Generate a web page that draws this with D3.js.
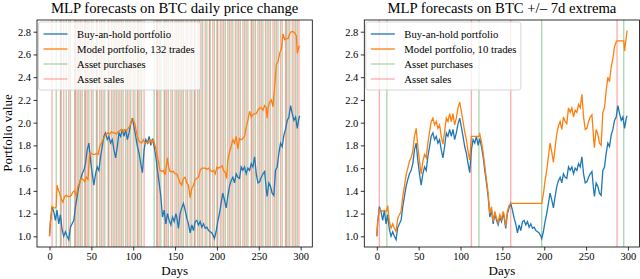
<!DOCTYPE html>
<html>
<head>
<meta charset="utf-8">
<script src="https://cdn.jsdelivr.net/npm/d3@7"></script>
<style>
  body { margin: 0; background: #fff; }
  svg text { font-family: "Liberation Serif", "DejaVu Serif", serif; fill: #000; }
</style>
</head>
<body>
<svg id="chart" width="640" height="279"></svg>
<script>
// Buy-and-hold portfolio (same in both panels): [day, value]
const buyHold = [[0,1.00],[1,1.12],[3,1.26],[5,1.22],[7,1.14],[9,1.23],[11,1.11],[13,1.19],[15,1.06],[17,1.00],[19,1.04],[21,1.00],[23,0.97],[25,1.08],[27,1.11],[29,1.14],[31,1.26],[33,1.35],[35,1.44],[37,1.50],[39,1.55],[41,1.58],[43,1.64],[45,1.76],[47,1.82],[49,1.67],[51,1.55],[53,1.45],[55,1.55],[57,1.61],[59,1.58],[61,1.70],[63,1.79],[65,1.88],[67,1.91],[69,1.85],[71,1.88],[73,1.82],[75,1.85],[77,1.76],[79,1.69],[81,1.79],[83,1.91],[85,1.88],[87,1.94],[89,1.88],[91,1.94],[93,1.85],[95,1.91],[97,1.99],[99,2.04],[101,1.96],[103,1.88],[105,1.79],[107,1.73],[109,1.64],[111,1.56],[113,1.76],[115,1.85],[117,1.82],[119,1.88],[121,1.80],[123,1.86],[125,1.79],[127,1.70],[129,1.58],[131,1.47],[133,1.35],[135,1.17],[137,1.23],[139,1.11],[141,1.20],[143,1.14],[145,1.10],[147,1.17],[149,1.13],[151,1.20],[152,1.17],[154,1.07],[156,1.20],[158,1.25],[160,1.29],[162,1.23],[164,1.16],[166,1.11],[168,1.03],[170,1.10],[172,1.05],[174,1.13],[176,1.14],[178,1.10],[180,1.13],[182,1.08],[184,1.11],[186,1.07],[188,1.08],[190,1.05],[192,1.04],[194,1.03],[196,1.00],[197,0.98],[199,1.04],[201,1.13],[203,1.20],[205,1.29],[207,1.38],[209,1.32],[211,1.25],[213,1.35],[215,1.44],[217,1.49],[219,1.52],[221,1.47],[223,1.55],[225,1.52],[227,1.51],[229,1.61],[231,1.58],[233,1.61],[235,1.55],[237,1.60],[239,1.58],[241,1.64],[243,1.61],[245,1.70],[247,1.55],[249,1.47],[251,1.48],[253,1.52],[255,1.55],[257,1.57],[259,1.41],[260,1.35],[262,1.47],[264,1.44],[266,1.38],[268,1.36],[270,1.58],[272,1.61],[274,1.73],[276,1.82],[278,1.79],[280,1.89],[282,1.94],[284,2.02],[286,2.05],[288,2.15],[290,2.08],[292,2.02],[294,2.05],[296,1.95],[298,2.04],[299,2.06]];

// Model portfolio, daily price change model (132 trades)
const dailyModel = [[0,1.00],[1,1.12],[3,1.26],[5,1.25],[7,1.25],[8,1.26],[9,1.45],[10,1.42],[12,1.38],[14,1.33],[16,1.30],[18,1.35],[20,1.36],[22,1.35],[24,1.35],[26,1.36],[28,1.39],[30,1.40],[32,1.35],[34,1.44],[36,1.47],[38,1.51],[40,1.50],[42,1.48],[44,1.52],[46,1.50],[48,1.73],[50,1.73],[52,1.72],[54,1.72],[56,1.73],[58,1.72],[60,1.79],[62,1.82],[64,1.85],[66,1.88],[68,1.90],[70,1.91],[72,1.90],[74,1.92],[76,1.91],[78,1.91],[80,1.90],[82,1.92],[84,1.93],[86,1.94],[88,1.92],[90,1.94],[92,1.93],[94,1.95],[96,1.97],[98,2.02],[100,2.03],[102,1.99],[104,1.91],[106,1.85],[108,1.83],[110,1.82],[112,1.85],[114,1.82],[116,1.83],[118,1.82],[120,1.85],[122,1.82],[124,1.85],[126,1.80],[128,1.74],[130,1.66],[132,1.58],[134,1.57],[136,1.58],[138,1.54],[140,1.64],[141,1.69],[142,1.62],[144,1.57],[146,1.57],[148,1.57],[150,1.55],[152,1.55],[154,1.51],[156,1.47],[158,1.45],[160,1.51],[162,1.52],[164,1.47],[166,1.45],[168,1.34],[170,1.42],[172,1.45],[174,1.50],[176,1.51],[178,1.52],[180,1.58],[182,1.60],[184,1.60],[186,1.60],[188,1.59],[190,1.60],[192,1.58],[194,1.57],[196,1.58],[198,1.55],[200,1.61],[202,1.60],[204,1.61],[206,1.62],[208,1.58],[210,1.56],[211.5,1.51],[213,1.67],[215,1.74],[217,1.79],[219,1.85],[221,1.82],[223,1.88],[225,1.77],[227,1.86],[229,1.85],[231,1.86],[233,1.88],[235,1.96],[237,2.02],[239,2.10],[241,2.05],[243,2.07],[245,2.08],[247,2.08],[249,2.11],[251,2.13],[253,2.13],[255,2.11],[257,2.15],[259,2.13],[260,2.04],[261,2.13],[263,2.18],[265,2.20],[267,2.14],[269,2.32],[271,2.51],[273,2.54],[275,2.61],[277,2.65],[279,2.78],[281,2.73],[283,2.74],[285,2.74],[287,2.78],[289,2.80],[291,2.80],[293,2.79],[295,2.76],[296,2.61],[298,2.67],[299,2.67]];

// Model portfolio, +/- 7d extrema model (10 trades)
const extremaModel = [[0,1.00],[1,1.12],[3,1.24],[5,1.23],[7,1.22],[9,1.23],[11,1.22],[12,1.23],[13,1.27],[15,1.13],[17,1.07],[19,1.11],[21,1.07],[23,1.04],[25,1.16],[27,1.19],[29,1.22],[31,1.35],[33,1.44],[35,1.54],[37,1.60],[39,1.66],[41,1.69],[43,1.75],[45,1.88],[47,1.95],[49,1.79],[51,1.66],[53,1.55],[55,1.66],[57,1.72],[59,1.69],[61,1.82],[63,1.92],[65,2.01],[67,2.04],[69,1.98],[71,2.01],[73,1.95],[75,1.98],[77,1.88],[79,1.81],[81,1.92],[83,2.04],[85,2.01],[87,2.08],[89,2.01],[91,2.08],[93,1.98],[95,2.04],[97,2.13],[99,2.18],[101,2.10],[103,2.01],[105,1.92],[107,1.85],[109,1.75],[111,1.67],[113,1.88],[122,1.88],[123,1.90],[125,1.83],[127,1.74],[129,1.62],[131,1.50],[133,1.38],[135,1.20],[137,1.26],[139,1.13],[141,1.22],[143,1.16],[145,1.12],[147,1.19],[149,1.15],[151,1.22],[152,1.19],[154,1.09],[156,1.22],[158,1.27],[160,1.29],[197,1.29],[199,1.37],[201,1.49],[203,1.58],[205,1.70],[207,1.82],[209,1.74],[211,1.65],[213,1.78],[215,1.90],[217,1.97],[219,2.01],[221,1.94],[223,2.05],[225,2.01],[227,1.99],[229,2.13],[231,2.09],[233,2.13],[235,2.05],[237,2.11],[239,2.09],[241,2.16],[243,2.13],[245,2.25],[247,2.05],[249,1.94],[251,1.95],[253,2.01],[255,2.05],[257,2.07],[259,1.86],[260,1.78],[262,1.94],[264,1.90],[266,1.82],[268,1.80],[270,2.09],[272,2.13],[274,2.28],[276,2.40],[278,2.36],[280,2.49],[282,2.56],[284,2.67],[286,2.71],[287,2.72],[295,2.72],[296,2.63],[298,2.75],[299,2.81]];

// trade days
const dailySales = [3,13,17,23,30,33,37,42,45,50,56,60,64,70,74,78,82,86,91,95,100,105,108,113,128,131,137,140,145,150,154,158,163,168,173,177,181,186,191,195,200,204,208,213,217,222,226,231,235,241,244,249,253,258,262,267,271,276,282,285,290,294,298];
const dailyBuys = [8,14,20,25,31,35,39,43,47,52,57,62,66,71,76,80,84,88,93,97,102,106,110,125,129,133,138,142,147,152,156,160,165,170,174,179,183,188,192,197,201,206,210,215,219,224,228,233,237,242,246,251,255,260,264,269,273,278,283,287,292,296];
const extremaSales = [3,113,160,287];
const extremaBuys = [12,122,197,295];

const xTicks = [0, 50, 100, 150, 200, 250, 300];
const yTicks = [1.0, 1.2, 1.4, 1.6, 1.8, 2.0, 2.2, 2.4, 2.6, 2.8];

const panels = [
  { left: 37, title: 'MLP forecasts on BTC daily price change', model: dailyModel,
    sales: dailySales, buys: dailyBuys, label: 'Model portfolio, 132 trades', ylabel: true, legendW: 162 },
  { left: 364.3, title: 'MLP forecasts on BTC +/\u2013 7d extrema', model: extremaModel,
    sales: extremaSales, buys: extremaBuys, label: 'Model portfolio, 10 trades', ylabel: false, legendW: 155 }
];

const plotTop = 20, plotBottom = 247, pw = 275.3;
const svg = d3.select('#chart');

panels.forEach((p, i) => {
  const x = d3.scaleLinear().domain([-14.95, 313.95]).range([p.left, p.left + pw]);
  const y = d3.scaleLinear().domain([0.906, 2.903]).range([plotBottom, plotTop]);

  svg.append('clipPath').attr('id', 'clip' + i)
    .append('rect').attr('x', p.left).attr('y', plotTop).attr('width', pw).attr('height', plotBottom - plotTop);
  const g = svg.append('g').attr('clip-path', 'url(#clip' + i + ')');

  // trade markers
  g.selectAll('.buy').data(p.buys).enter().append('line')
    .attr('x1', d => x(d)).attr('x2', d => x(d)).attr('y1', plotTop).attr('y2', plotBottom)
    .attr('stroke', 'green').attr('stroke-opacity', 0.33).attr('stroke-width', 1.3);
  g.selectAll('.sale').data(p.sales).enter().append('line')
    .attr('x1', d => x(d)).attr('x2', d => x(d)).attr('y1', plotTop).attr('y2', plotBottom)
    .attr('stroke', 'red').attr('stroke-opacity', 0.33).attr('stroke-width', 1.3);

  const line = d3.line().x(d => x(d[0])).y(d => y(d[1]));
  g.append('path').datum(buyHold).attr('d', line)
    .attr('fill', 'none').attr('stroke', '#1f77b4').attr('stroke-width', 1.3);
  g.append('path').datum(p.model).attr('d', line)
    .attr('fill', 'none').attr('stroke', '#ff7f0e').attr('stroke-width', 1.3);

  // axes
  const xAxis = svg.append('g').attr('transform', 'translate(0,' + plotBottom + ')')
    .call(d3.axisBottom(x).tickValues(xTicks).tickSize(3.5).tickPadding(2.5));
  const yAxis = svg.append('g').attr('transform', 'translate(' + p.left + ',0)')
    .call(d3.axisLeft(y).tickValues(yTicks).tickFormat(d3.format('.1f')).tickSize(3.5).tickPadding(2.5));
  [xAxis, yAxis].forEach(a => {
    a.select('.domain').remove();
    a.selectAll('text').style('font-family', '"Liberation Serif", serif').style('font-size', '10.5px');
    a.selectAll('line').attr('stroke', '#000').attr('stroke-width', 0.8);
  });

  svg.append('rect').attr('x', p.left).attr('y', plotTop).attr('width', pw).attr('height', plotBottom - plotTop)
    .attr('fill', 'none').attr('stroke', '#000').attr('stroke-width', 0.8);

  svg.append('text').attr('x', p.left + pw / 2).attr('y', 12.5).attr('text-anchor', 'middle')
    .style('font-size', '14.7px').text(p.title);
  svg.append('text').attr('x', p.left + pw / 2).attr('y', 274.5).attr('text-anchor', 'middle')
    .style('font-size', '13px').text('Days');
  if (p.ylabel) {
    svg.append('text').attr('transform', 'translate(12,133) rotate(-90)').attr('text-anchor', 'middle')
      .style('font-size', '13px').text('Portfolio value');
  }

  // legend
  const lg = svg.append('g').attr('transform', 'translate(' + (p.left + 1.5) + ',' + (plotTop + 2) + ')');
  lg.append('rect').attr('width', p.legendW).attr('height', 68).attr('rx', 2.5)
    .attr('fill', '#fff').attr('fill-opacity', 0.8).attr('stroke', '#ccc').attr('stroke-width', 0.8);
  const items = [
    { text: 'Buy-an-hold portfolio', color: '#1f77b4', op: 1, w: 1.3 },
    { text: p.label, color: '#ff7f0e', op: 1, w: 1.3 },
    { text: 'Asset purchases', color: 'green', op: 0.33, w: 1.3 },
    { text: 'Asset sales', color: 'red', op: 0.33, w: 1.3 }
  ];
  const row = lg.selectAll('.item').data(items).enter().append('g')
    .attr('transform', (d, k) => 'translate(0,' + (12 + k * 15) + ')');
  row.append('line').attr('x1', 5).attr('x2', 29).attr('stroke', d => d.color)
    .attr('stroke-opacity', d => d.op).attr('stroke-width', d => d.w);
  row.append('text').attr('x', 38.5).attr('dy', '0.35em').style('font-size', '10.7px').text(d => d.text);
});
</script>
</body>
</html>
